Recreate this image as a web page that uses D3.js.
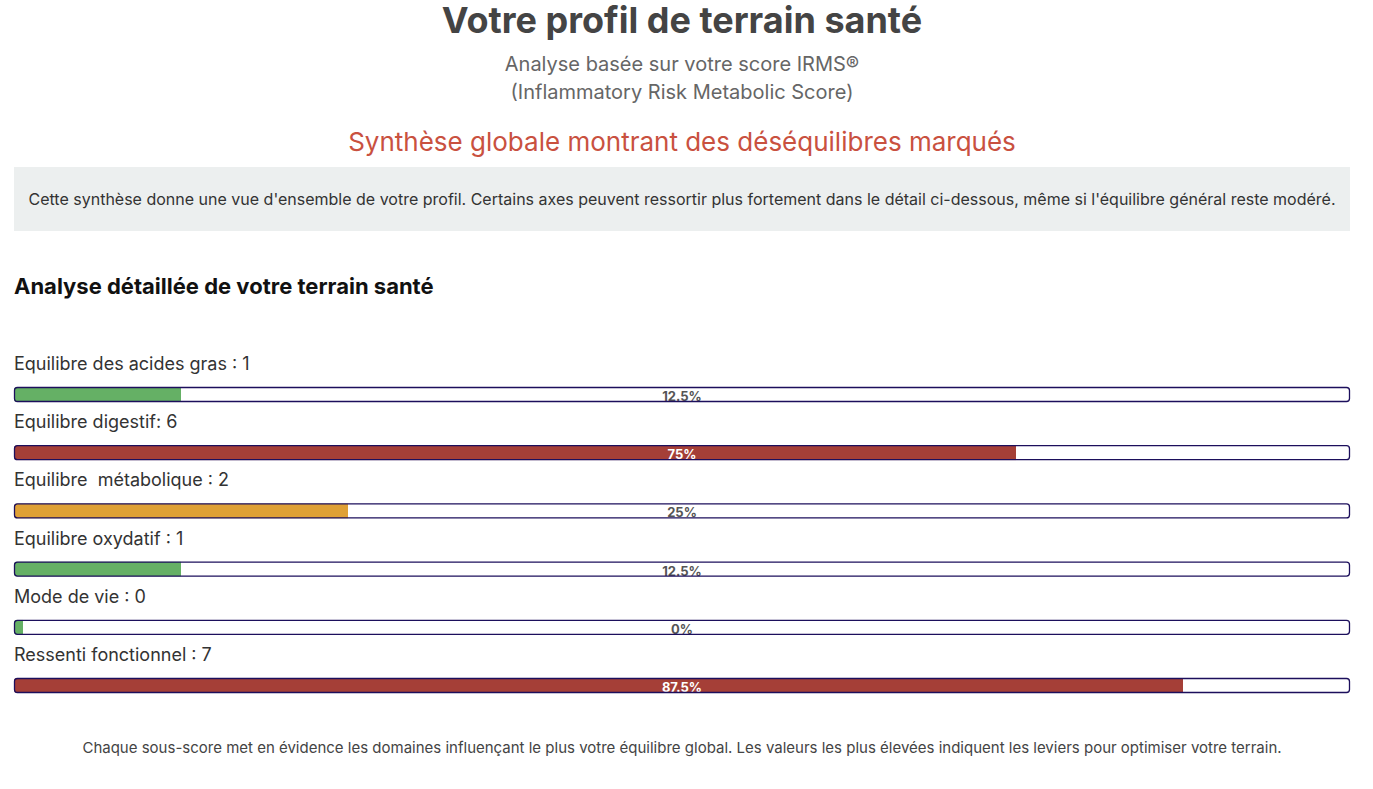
<!DOCTYPE html>
<html lang="fr">
<head>
<meta charset="utf-8">
<title>Votre profil de terrain santé</title>
<script src="https://cdn.jsdelivr.net/npm/d3@7"></script>
<style>
  html, body { margin: 0; padding: 0; background: #fff; }
  svg { display: block; font-family: Inter, "Noto Sans", sans-serif; }
</style>
</head>
<body>
<svg id="chart"></svg>
<script>
// ── data ──────────────────────────────────────────
const categories = [
  'Equilibre des acides gras',
  'Equilibre digestif',
  'Equilibre  métabolique',
  'Equilibre oxydatif',
  'Mode de vie',
  'Ressenti fonctionnel'
];
const separators = [' : ', ': ', ' : ', ' : ', ' : ', ' : '];
const scores     = [1, 6, 2, 1, 0, 7];
const maxScore   = 8;
const levels     = ['low', 'high', 'mid', 'low', 'low', 'high'];

const title     = 'Votre profil de terrain santé';
const subtitle  = ['Analyse basée sur votre score IRMS®', '(Inflammatory Risk Metabolic Score)'];
const synthese  = 'Synthèse globale montrant des déséquilibres marqués';
const boxText   = "Cette synthèse donne une vue d'ensemble de votre profil. Certains axes peuvent ressortir plus fortement dans le détail ci-dessous, même si l'équilibre général reste modéré.";
const section   = 'Analyse détaillée de votre terrain santé';
const footer    = 'Chaque sous-score met en évidence les domaines influençant le plus votre équilibre global. Les valeurs les plus élevées indiquent les leviers pour optimiser votre terrain.';

// ── layout ────────────────────────────────────────
const W = 1373, H = 789;
const left = 14, right = 1350;
const colors = { low: '#65b065', mid: '#dfa035', high: '#a53f37' };

const svg = d3.select('#chart').attr('width', W).attr('height', H);
const cx = (left + right) / 2;

// Header
svg.append('text').attr('x', cx).attr('y', 33).attr('text-anchor', 'middle')
  .attr('font-size', 36).attr('font-weight', 700).attr('fill', '#444').text(title);

svg.selectAll('.sub').data(subtitle).join('text').attr('class', 'sub')
  .attr('x', cx).attr('y', (d, i) => 71 + i * 28).attr('text-anchor', 'middle')
  .attr('font-size', 20).attr('fill', '#666').text(d => d);

svg.append('text').attr('x', cx).attr('y', 151).attr('text-anchor', 'middle')
  .attr('font-size', 26).attr('fill', '#c9513f').text(synthese);

// Grey box
svg.append('rect').attr('x', left).attr('y', 167).attr('width', right - left).attr('height', 64)
  .attr('fill', '#ecefef');
svg.append('text').attr('x', cx).attr('y', 205).attr('text-anchor', 'middle')
  .attr('font-size', 16).attr('fill', '#333').text(boxText);

svg.append('text').attr('x', left).attr('y', 294)
  .attr('font-size', 22).attr('font-weight', 700).attr('fill', '#111').text(section);

// ── bars ──────────────────────────────────────────
const x = d3.scaleLinear().domain([0, maxScore]).range([0, right - left]);
const y = d3.scalePoint().domain(categories).range([387, 678]);
const barH = 15;

const defs = svg.append('defs');

const rows = svg.selectAll('.row')
  .data(categories.map((c, i) => ({ c, i, v: scores[i], lvl: levels[i], sep: separators[i] })))
  .join('g').attr('class', 'row')
  .attr('transform', d => `translate(${left},${y(d.c)})`);

rows.append('text').attr('y', -17)
  .attr('font-size', 18).attr('fill', '#333')
  .style('white-space', 'pre').attr('xml:space', 'preserve')
  .text(d => d.c + d.sep + d.v);

rows.each(function (d) {
  defs.append('clipPath').attr('id', 'clip' + d.i)
    .append('rect').attr('width', x(maxScore)).attr('height', barH).attr('rx', 3);
});

const inner = rows.append('g').attr('clip-path', d => `url(#clip${d.i})`);

inner.append('rect').attr('width', x(maxScore)).attr('height', barH).attr('fill', '#fff');
inner.append('rect')
  .attr('width', d => Math.max(x(d.v), 9)).attr('height', barH)
  .attr('fill', d => colors[d.lvl]);
inner.append('text')
  .attr('x', x(maxScore) / 2).attr('y', 14)
  .attr('text-anchor', 'middle').attr('font-size', 13).attr('font-weight', 700)
  .attr('fill', d => d.v / maxScore >= 0.5 ? '#fff' : '#555')
  .text(d => d3.format('~r')(d.v / maxScore * 100) + '%');

rows.append('rect').attr('x', 0.5).attr('y', 0.5)
  .attr('width', x(maxScore) - 1).attr('height', barH - 1).attr('rx', 3)
  .attr('fill', 'none').attr('stroke', '#1c0f5c').attr('stroke-width', 1.3);

// Footer
svg.append('text').attr('x', cx).attr('y', 753).attr('text-anchor', 'middle')
  .attr('font-size', 15).attr('fill', '#444').text(footer);
</script>
</body>
</html>
